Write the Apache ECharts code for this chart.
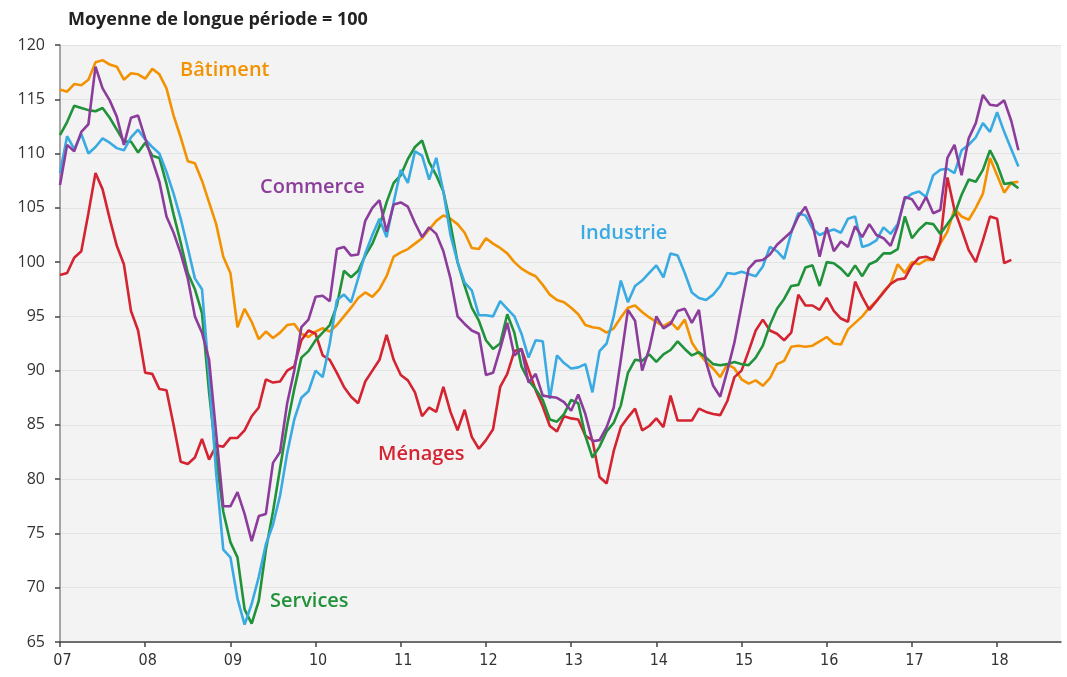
<!DOCTYPE html>
<html>
<head>
<meta charset="utf-8">
<script src="https://cdn.jsdelivr.net/npm/echarts@6/dist/echarts.min.js"></script>
<style>
  html, body { margin: 0; padding: 0; background: #fff; }
  #chart { width: 1067px; height: 677px; }
</style>
</head>
<body>
<div id="chart"></div>
<script>
// indices d'activité mensuels, janv. 2007 -> avr. 2018 (moyenne de longue période = 100)
var years = ['07', '08', '09', '10', '11', '12', '13', '14', '15', '16', '17', '18'];
var nbMonths = 142; // axe jusqu'à l'automne 2018

var batiment = [
	115.9, 115.7, 116.4, 116.3, 116.8, 118.4, 118.6, 118.2, 118.0, 116.8, 117.4, 117.3,
	116.9, 117.8, 117.3, 116.0, 113.5, 111.5, 109.3, 109.1, 107.5, 105.5, 103.5, 100.5,
	99.0, 94.0, 95.7, 94.5, 92.9, 93.6, 93.0, 93.5, 94.2, 94.3, 93.4, 93.1,
	93.6, 93.9, 93.6, 94.2, 95.0, 95.8, 96.7, 97.2, 96.8, 97.5, 98.7, 100.5,
	100.9, 101.2, 101.7, 102.2, 103.0, 103.8, 104.3, 104.0, 103.5, 102.7, 101.3, 101.2,
	102.2, 101.7, 101.3, 100.8, 100.0, 99.4, 99.0, 98.7, 97.9, 97.0, 96.5, 96.3,
	95.8, 95.2, 94.2, 94.0, 93.9, 93.5, 93.9, 94.9, 95.8, 96.0, 95.4, 94.9,
	94.5, 94.1, 94.5, 93.8, 94.7, 92.6, 91.6, 90.8, 90.2, 89.4, 90.6, 90.2,
	89.2, 88.8, 89.1, 88.6, 89.3, 90.6, 90.9, 92.2, 92.3, 92.2, 92.3, 92.7,
	93.1, 92.5, 92.4, 93.8, 94.4, 95.0, 95.8, 96.4, 97.3, 98.0, 99.8, 99.0,
	100.0, 99.8, 100.2, 100.2, 101.7, 102.8, 104.9, 104.2, 103.9, 105.0, 106.3, 109.6,
	108.0, 106.4, 107.3, 107.4
];
var commerce = [
	107.1, 110.8, 110.2, 112.0, 112.7, 118.0, 116.0, 114.9, 113.4, 110.8, 113.3, 113.5,
	111.4, 109.4, 107.4, 104.2, 102.7, 100.8, 98.5, 95.0, 93.5, 91.0, 84.2, 77.5,
	77.5, 78.8, 76.8, 74.3, 76.6, 76.8, 81.5, 82.5, 87.0, 90.0, 94.0, 94.7,
	96.8, 96.9, 96.4, 101.2, 101.4, 100.6, 100.7, 103.8, 105.0, 105.7, 102.8, 105.3,
	105.5, 105.1, 103.6, 102.3, 103.2, 102.6, 101.0, 98.5, 95.0, 94.3, 93.7, 93.4,
	89.6, 89.8, 92.0, 94.4, 91.4, 92.0, 88.9, 89.7, 87.7, 87.6, 87.5, 87.1,
	86.3, 87.8, 86.0, 83.5, 83.6, 84.8, 86.6, 91.0, 95.6, 94.6, 90.0, 92.0,
	95.0, 93.9, 94.3, 95.5, 95.7, 94.4, 95.6, 90.8, 88.6, 87.6, 90.0, 92.6,
	96.0, 99.4, 100.1, 100.2, 100.7, 101.6, 102.2, 102.8, 104.2, 105.1, 103.5, 100.5,
	103.2, 101.0, 101.9, 101.4, 103.3, 102.3, 103.5, 102.5, 102.2, 101.5, 103.3, 106.0,
	105.8, 104.8, 106.0, 104.5, 104.8, 109.6, 110.8, 108.0, 111.4, 112.8, 115.4, 114.5,
	114.4, 114.9, 113.0, 110.3
];
var industrie = [
	108.2, 111.6, 110.4, 111.8, 110.0, 110.6, 111.4, 111.0, 110.5, 110.3, 111.5, 112.2,
	111.3, 110.6, 110.0, 108.3, 106.3, 104.0, 101.3, 98.5, 97.5, 89.5, 80.5, 73.5,
	72.8, 69.0, 66.6, 68.5, 71.0, 74.0, 75.8, 78.5, 82.4, 85.5, 87.5, 88.1,
	90.0, 89.4, 92.5, 96.5, 97.0, 96.3, 98.5, 100.8, 102.5, 104.0, 102.3, 105.5,
	108.5, 107.3, 110.2, 109.8, 107.6, 109.6, 106.5, 102.5, 100.0, 98.1, 97.4, 95.1,
	95.1, 95.0, 96.4, 95.7, 95.0, 93.4, 91.2, 92.8, 92.7, 87.4, 91.4, 90.7,
	90.2, 90.3, 90.6, 88.0, 91.8, 92.5, 95.0, 98.3, 96.3, 97.8, 98.3, 99.0,
	99.7, 98.6, 100.8, 100.6, 99.0, 97.2, 96.7, 96.5, 97.0, 97.8, 99.0, 98.9,
	99.1, 98.9, 98.7, 99.6, 101.4, 101.0, 100.3, 102.7, 104.5, 104.3, 103.1, 102.5,
	102.8, 103.0, 102.7, 104.0, 104.2, 101.4, 101.6, 102.0, 103.2, 102.6, 103.5, 105.8,
	106.3, 106.5, 106.0, 108.0, 108.5, 108.6, 108.2, 110.3, 110.8, 111.5, 112.8, 112.0,
	113.8, 112.0, 110.4, 108.8
];
var services = [
	111.7, 112.9, 114.4, 114.2, 114.0, 113.9, 114.2, 113.3, 112.2, 111.1, 111.1, 110.1,
	111.0, 109.8, 109.6, 107.2, 104.4, 101.8, 99.0, 97.5, 95.3, 88.0, 82.0, 77.0,
	74.2, 72.8, 68.0, 66.7, 68.8, 73.5, 77.0, 81.0, 85.0, 88.3, 91.2, 91.8,
	92.8, 93.5, 94.2, 96.0, 99.2, 98.6, 99.2, 100.6, 101.7, 103.3, 105.5, 107.3,
	108.0, 109.5, 110.6, 111.2, 109.2, 108.0, 106.5, 103.5, 100.0, 97.8, 95.8, 94.6,
	92.8, 92.0, 92.5, 95.2, 93.5, 90.4, 89.1, 88.3, 87.3, 85.5, 85.3, 86.0,
	87.3, 87.0, 84.0, 82.0, 83.0, 84.4, 85.2, 86.8, 89.8, 91.0, 90.9, 91.5,
	90.8, 91.5, 91.9, 92.7, 92.0, 91.4, 91.7, 91.2, 90.6, 90.5, 90.6, 90.8,
	90.6, 90.5, 91.2, 92.3, 94.2, 95.7, 96.6, 97.8, 97.9, 99.5, 99.7, 97.8,
	100.0, 99.9, 99.4, 98.7, 99.7, 98.7, 99.8, 100.1, 100.8, 100.8, 101.2, 104.2,
	102.2, 103.0, 103.6, 103.5, 102.6, 103.5, 104.4, 106.2, 107.6, 107.4, 108.5, 110.3,
	109.0, 107.2, 107.3, 106.8
];
var menages = [
	98.8, 99.0, 100.4, 101.0, 104.5, 108.2, 106.7, 104.0, 101.5, 99.8, 95.5, 93.7,
	89.8, 89.7, 88.3, 88.2, 85.0, 81.6, 81.4, 82.0, 83.7, 81.8, 83.1, 83.0,
	83.8, 83.8, 84.5, 85.8, 86.6, 89.2, 88.9, 89.0, 90.0, 90.4, 92.8, 93.7,
	93.4, 91.4, 91.0, 89.8, 88.5, 87.6, 87.0, 89.0, 90.0, 91.0, 93.3, 91.0,
	89.6, 89.1, 88.0, 85.8, 86.6, 86.2, 88.5, 86.2, 84.5, 86.4, 83.9, 82.8,
	83.6, 84.6, 88.5, 89.7, 91.8, 92.0, 90.1, 88.2, 86.7, 84.9, 84.4, 85.8,
	85.6, 85.5, 84.0, 83.6, 80.2, 79.6, 82.6, 84.8, 85.7, 86.5, 84.5, 84.9,
	85.6, 84.8, 87.7, 85.4, 85.4, 85.4, 86.5, 86.2, 86.0, 85.9, 87.2, 89.4,
	90.0, 91.8, 93.7, 94.7, 93.7, 93.4, 92.8, 93.5, 97.0, 96.0, 96.0, 95.6,
	96.7, 95.5, 94.8, 94.5, 98.2, 96.8, 95.6, 96.4, 97.2, 98.0, 98.4, 98.5,
	99.7, 100.4, 100.5, 100.2, 101.9, 107.8, 104.8, 103.0, 101.1, 100.0, 102.0, 104.2,
	104.0, 99.9, 100.2
];

// couleurs des séries
var cBat = '#f39200', cCom = '#8c3d9c', cInd = '#3aabe2', cSer = '#20933a', cMen = '#d42331';

var months = [];
for (var i = 0; i < nbMonths; i++) {
	months.push(years[Math.floor(i / 12)] || '');
}

function serie(nom, data, couleur) {
	return {
		name: nom,
		type: 'line',
		data: data,
		symbol: 'none',
		smooth: false,
		lineStyle: { color: couleur, width: 2.6 },
		itemStyle: { color: couleur },
		animation: false
	};
}

function label(txt, x, y, couleur) {
	return {
		type: 'text', left: x, top: y,
		style: { text: txt, fill: couleur, font: '600 20px "Open Sans", "Noto Sans", sans-serif' }
	};
}

var chart = echarts.init(document.getElementById('chart'));
chart.setOption({
	backgroundColor: '#ffffff',
	animation: false,
	grid: { left: 60, top: 45, right: 6, bottom: 35, show: true, backgroundColor: '#f3f3f3', borderWidth: 0 },
	xAxis: {
		type: 'category',
		data: months,
		boundaryGap: false,
		axisLine: { lineStyle: { color: '#444', width: 1.5 } },
		axisTick: {
			length: 5, lineStyle: { color: '#444', width: 1.5 },
			interval: function (idx) { return idx % 12 === 0 && idx < 140; }
		},
		axisLabel: {
			color: '#333', fontSize: 16, margin: 11,
			padding: [0, 0, 0, 5],
			fontFamily: '"Liberation Sans Narrow", "DejaVu Sans Condensed", sans-serif',
			interval: function (idx) { return idx % 12 === 0 && idx < 140; }
		},
		splitLine: { show: false }
	},
	yAxis: {
		type: 'value',
		min: 65, max: 120, interval: 5,
		axisLine: { show: true, lineStyle: { color: '#888', width: 1.5 } },
		axisTick: { show: true, length: 5, lineStyle: { color: '#444', width: 1.5 } },
		axisLabel: {
			color: '#333', fontSize: 16, margin: 15,
			fontFamily: '"Open Sans", "Noto Sans", sans-serif'
		},
		splitLine: { lineStyle: { color: '#e3e3e3', width: 1 } }
	},
	series: [
		serie('Bâtiment', batiment, cBat),
		serie('Ménages', menages, cMen),
		serie('Services', services, cSer),
		serie('Industrie', industrie, cInd),
		serie('Commerce', commerce, cCom)
	],
	graphic: [
		{
			type: 'text', left: 68, top: 11,
			style: { text: 'Moyenne de longue période = 100', fill: '#222', font: 'bold 18px "Open Sans", "Noto Sans", sans-serif' }
		},
		label('Bâtiment', 180, 60, cBat),
		label('Commerce', 260, 177, cCom),
		label('Industrie', 580, 223, cInd),
		label('Ménages', 378, 444, cMen),
		label('Services', 270, 591, cSer)
	]
});
</script>
</body>
</html>
